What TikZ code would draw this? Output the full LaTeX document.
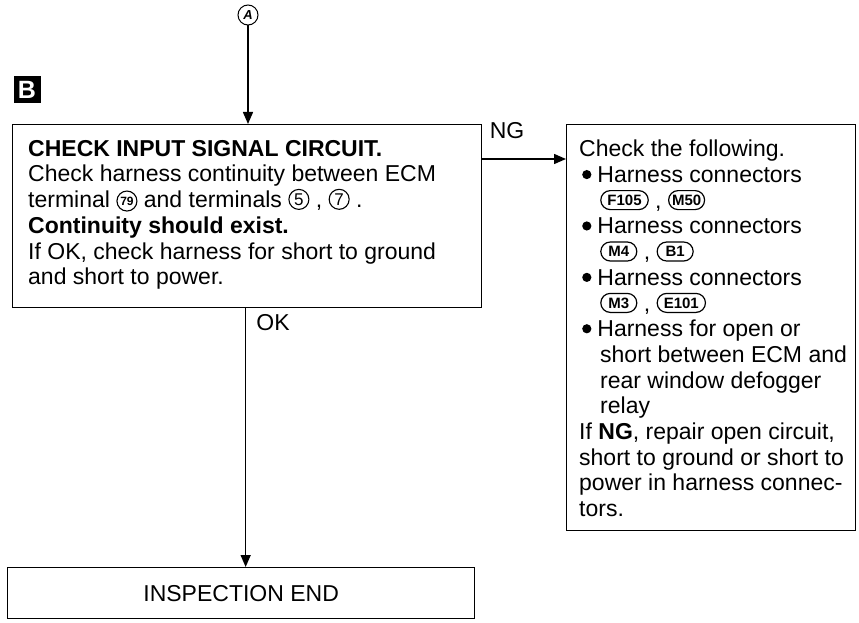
\documentclass[tikz,border=0pt]{standalone}
\usepackage{fontspec}
\setmainfont{Liberation Sans}
\usepackage{tikz}
\usetikzlibrary{positioning,arrows.meta,shapes.misc,calc}
\newcommand{\term}[2][17]{\tikz[baseline={([yshift=-2.5pt]t.base)}]\node[draw,circle,line width=1.1pt,inner sep=0pt,minimum size=20pt,font=\fontsize{#1}{#1}\selectfont](t){#2};}
\newcommand{\conn}[1]{\tikz[baseline={([yshift=-3pt]c.base)}]\node[draw,rounded rectangle,line width=1.2pt,inner xsep=5pt,inner ysep=1pt,minimum width=46pt,minimum height=19pt,font=\fontsize{15}{15}\selectfont\bfseries](c){#1};}
\newcommand{\blt}{\tikz[baseline=-8pt]\fill (0,0) circle (4.6pt);}

\begin{document}
\begin{tikzpicture}[x=1pt,y=-1pt,
  box/.style={draw, line width=1.3pt, inner sep=0pt, anchor=north west},
  txt/.style={anchor=north west, inner sep=0pt, align=left,
              font=\fontsize{23}{25.7}\selectfont},
  lbl/.style={font=\fontsize{23}{25.7}\selectfont, inner sep=0pt},
  arr/.style={-{Triangle[length=12pt,width=10pt]}, line width=1.5pt},
]
\useasboundingbox (0,0) rectangle (859,623);

% --- entry ---
\node[draw, circle, line width=1pt, minimum size=20pt, inner sep=0pt,
      font=\fontsize{13}{13}\selectfont\bfseries\itshape] (ca) at (248,15) {A};
\node[fill=black, text=white, minimum size=27pt, inner sep=0pt,
      font=\fontsize{25}{25}\selectfont\bfseries] (cb) at (27,90) {B};

% --- check box ---
\node[box, minimum width=469pt, minimum height=183pt] (chk) at (12,124) {};
\node[txt] (chktxt) at (28,140) {\textbf{CHECK INPUT SIGNAL CIRCUIT.}\\
Check harness continuity between ECM\\
terminal \term[12]{\bfseries 79} and terminals \term{5} , \term{7} .\\
\textbf{Continuity should exist.}\\
If OK, check harness for short to ground\\
and short to power.};

% --- repair box ---
\node[box, minimum width=289pt, minimum height=406pt] (rep) at (566,124) {};
\node[txt] (reptxt) at (579,140) {Check the following.\\
\hspace*{3pt}\blt\hspace{6pt}Harness connectors\\
\hspace*{21pt}\conn{F105} , \conn{M50}\\
\hspace*{3pt}\blt\hspace{6pt}Harness connectors\\
\hspace*{21pt}\conn{M4} , \conn{B1}\\
\hspace*{3pt}\blt\hspace{6pt}Harness connectors\\
\hspace*{21pt}\conn{M3} , \conn{E101}\\
\hspace*{3pt}\blt\hspace{6pt}Harness for open or\\
\hspace*{21pt}short between ECM and\\
\hspace*{21pt}rear window defogger\\
\hspace*{21pt}relay\\
If \textbf{NG}, repair open circuit,\\
short to ground or short to\\
power in harness connec-\\
tors.};

% --- end box ---
\node[box, minimum width=467pt, minimum height=51pt] (endb) at (7,567) {};
\node[lbl] (endtxt) at (endb.center) {INSPECTION END};

% --- connectors ---
\draw[arr] (ca.south) -- (ca.south |- chk.north);
\draw[arr] ([yshift=-35pt]chk.north east) -- ([yshift=-35pt]rep.north west);
\draw[arr] ([xshift=-1.5pt]chk.south) -- ([xshift=-1.5pt]chk.south |- endb.north);
\node[lbl] (ng) at (507,131) {NG};
\node[lbl] (ok) at (273,323) {OK};
\end{tikzpicture}
\end{document}
